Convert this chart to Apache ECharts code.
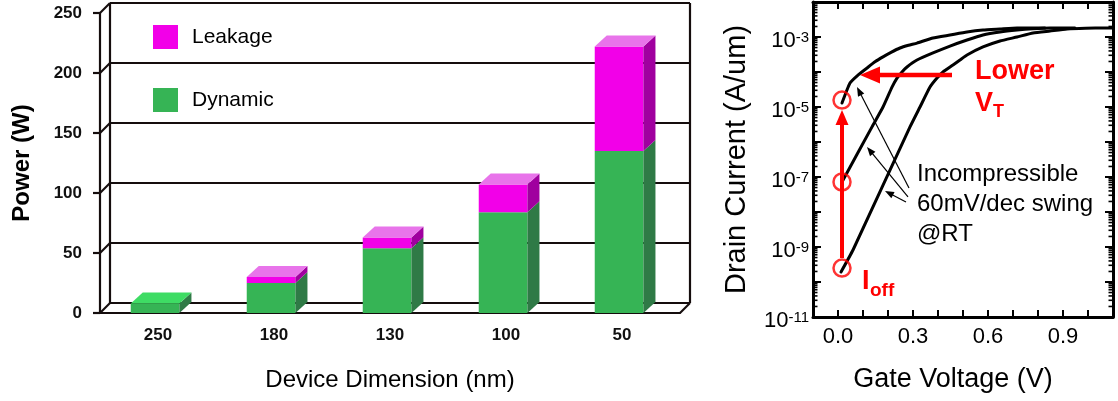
<!DOCTYPE html>
<html><head><meta charset="utf-8">
<script src="https://cdn.jsdelivr.net/npm/echarts@6/dist/echarts.min.js"></script>
<style>html,body{margin:0;padding:0;background:#fff}#c{width:1118px;height:401px}</style>
</head><body><div id="c"></div>
<script>
// ---------- Left chart data ----------
const categories = ['250', '180', '130', '100', '50'];
const dynamicPower = [8, 25, 54, 84, 135];
const leakagePower = [0, 5, 9, 23, 87];
const powerTicks = [0, 50, 100, 150, 200, 250];

// ---------- Right chart data (Gate Voltage V, Drain Current A/um) ----------
const curveLowVt = [[0.016,1.3e-5],[0.048,4.85e-5],[0.08,8.2e-5],[0.116,1.3e-4],[0.148,1.95e-4],[0.18,2.7e-4],[0.214,3.7e-4],[0.248,4.85e-4],[0.282,5.8e-4],[0.316,6.7e-4],[0.38,9.4e-4],[0.448,1.14e-3],[0.516,1.39e-3],[0.58,1.58e-3],[0.648,1.69e-3],[0.716,1.81e-3],[0.828,1.81e-3]];
const curveMidVt = [[0.016,7.2e-8],[0.136,2.7e-6],[0.18,1.0e-5],[0.216,3.7e-5],[0.236,6.7e-5],[0.256,1.0e-4],[0.276,1.39e-4],[0.316,2.2e-4],[0.38,3.5e-4],[0.448,5.5e-4],[0.516,8.2e-4],[0.58,1.14e-3],[0.648,1.39e-3],[0.716,1.58e-3],[0.78,1.72e-3],[0.848,1.81e-3],[0.948,1.81e-3]];
const curveHighVt = [[0.012,1.93e-10],[0.06,8.2e-10],[0.288,2.7e-6],[0.328,1.0e-5],[0.368,3.7e-5],[0.396,6.7e-5],[0.42,1.0e-4],[0.46,1.58e-4],[0.488,2.2e-4],[0.516,3.06e-4],[0.58,5.2e-4],[0.648,7.7e-4],[0.716,1.0e-3],[0.78,1.3e-3],[0.848,1.48e-3],[0.916,1.69e-3],[0.99,1.78e-3],[1.068,1.81e-3],[1.1,1.81e-3]];
const offMarkers = [[0.016,1.58e-5],[0.016,7.2e-8],[0.016,2.5e-10]];
const redArrowsV = [[0.016,4.85e-10,0.016,8.2e-6]];
const redArrowsH = [[0.456,8.2e-5,0.088,8.2e-5]];
const swingArrows = [[0.284,4.85e-8,0.076,3.7e-5],[0.28,2.7e-8,0.116,7.2e-7],[0.272,1.93e-8,0.188,4.0e-8]];
const voltTicksLabeled = [0, 0.3, 0.6, 0.9];
const voltRange = [-0.1, 1.1];
const currentRange = [1e-11, 1e-2];
const minorMantissas = [2, 3, 4, 5, 6, 7, 8, 9];

const FONT = '"Liberation Sans", Arial, Helvetica, sans-serif';
const RED = '#ff0000';

function box3d(front, side, top) {
  return function (params, api) {
    const i = api.value(0);
    const p0 = api.coord([i, api.value(1)]);
    const p1 = api.coord([i, api.value(2)]);
    const band = api.size([1, 0])[0];
    const w = band * 0.42;
    const xl = p0[0] - band * 0.235;
    const xr = xl + w;
    const dx = 12, dy = -11;
    const yb = p0[1], yt = p1[1];
    const ch = [
      {type: 'rect', shape: {x: xl, y: yt, width: w, height: yb - yt}, style: {fill: front}},
      {type: 'polygon', shape: {points: [[xr, yb], [xr + dx, yb + dy], [xr + dx, yt + dy], [xr, yt]]}, style: {fill: side}}
    ];
    if (api.value(3)) {
      ch.push({type: 'polygon', shape: {points: [[xl, yt], [xl + dx, yt + dy], [xr + dx, yt + dy], [xr, yt]]}, style: {fill: top}});
    }
    return {type: 'group', children: ch};
  };
}

function frameItem(params, api) {
  const v = api.value(1);
  const band = api.size([1, 0])[0];
  const pl = api.coord([0, v]);
  const pr = api.coord([categories.length - 1, v]);
  const x0 = pl[0] - band / 2, x1 = pr[0] + band / 2, y = pl[1];
  const d = 10;
  const st = {stroke: '#150d0d', lineWidth: 2.2};
  const ch = [
    {type: 'line', shape: {x1: x0, y1: y, x2: x0 + d, y2: y - d}, style: st},
    {type: 'line', shape: {x1: x0 + d, y1: y - d, x2: x1 + d, y2: y - d}, style: st}
  ];
  if (params.dataIndex === 0) {
    const yTop = api.coord([0, powerTicks[powerTicks.length - 1]])[1];
    ch.push({type: 'line', shape: {x1: x1, y1: y, x2: x1 + d, y2: y - d}, style: st});
    ch.push({type: 'line', shape: {x1: x0 + d, y1: y - d, x2: x0 + d, y2: yTop - d}, style: st});
    ch.push({type: 'line', shape: {x1: x1 + d, y1: y - d, x2: x1 + d, y2: yTop - d}, style: st});
  }
  return {type: 'group', children: ch};
}

function arrowItem(color, width, headLen, headW) {
  return function (params, api) {
    const p1 = api.coord([api.value(0), api.value(1)]);
    const p2 = api.coord([api.value(2), api.value(3)]);
    const dx = p2[0] - p1[0], dy = p2[1] - p1[1];
    const L = Math.hypot(dx, dy), ux = dx / L, uy = dy / L;
    const bx = p2[0] - ux * headLen, by = p2[1] - uy * headLen;
    const nx = -uy, ny = ux;
    return {type: 'group', children: [
      {type: 'line', shape: {x1: p1[0], y1: p1[1], x2: bx + ux * 2, y2: by + uy * 2}, style: {stroke: color, lineWidth: width}},
      {type: 'polygon', shape: {points: [[p2[0], p2[1]], [bx + nx * headW / 2, by + ny * headW / 2], [bx - nx * headW / 2, by - ny * headW / 2]]}, style: {fill: color}}
    ]};
  };
}

// log-axis minor ticks (2..9 in each decade), placed through the axis scale
function minorTickItem(params, api) {
  const v = api.value(1);
  const pl = api.coord([voltRange[0], v]);
  const pr = api.coord([voltRange[1], v]);
  const st = {stroke: '#000', lineWidth: 1.6};
  return {type: 'group', children: [
    {type: 'line', shape: {x1: pl[0], y1: pl[1], x2: pl[0] + 4.5, y2: pl[1]}, style: st},
    {type: 'line', shape: {x1: pr[0], y1: pr[1], x2: pr[0] - 4.5, y2: pr[1]}, style: st}
  ]};
}
const minorTickData = [];
for (let e = Math.round(Math.log10(currentRange[0])); e < Math.round(Math.log10(currentRange[1])); e++) {
  minorMantissas.forEach(m => minorTickData.push([voltRange[0], m * Math.pow(10, e)]));
}

const dynamicData = categories.map((c, i) => [i, 0, dynamicPower[i], leakagePower[i] > 0 ? 0 : 1]);
const leakageData = categories.map((c, i) => [i, dynamicPower[i], dynamicPower[i] + leakagePower[i], 1]).filter((d, i) => leakagePower[i] > 0);

const rightAxisLine = {show: true, onZero: false, lineStyle: {color: '#000', width: 3}};
const rightTick = {show: true, inside: true, length: 7, lineStyle: {color: '#000', width: 2}};
const curveStyle = {color: '#000', width: 3, join: 'round', cap: 'round'};

const chart = echarts.init(document.getElementById('c'), null, {renderer: 'canvas'});
chart.setOption({
  animation: false,
  backgroundColor: '#fff',
  textStyle: {fontFamily: FONT},
  grid: [
    {left: 100, top: 13, width: 580, height: 300, outerBoundsMode: 'none'},
    {left: 813, top: 2, width: 300, height: 315, outerBoundsMode: 'none'}
  ],
  legend: {
    data: [{name: 'Leakage', icon: 'rect'}, {name: 'Dynamic', icon: 'rect'}],
    orient: 'vertical', left: 148, top: 20, itemWidth: 25, itemHeight: 24, itemGap: 39,
    textStyle: {fontSize: 21, color: '#000', fontFamily: FONT, padding: [0, 0, 0, 9]},
    selectedMode: false
  },
  xAxis: [
    {type: 'category', gridIndex: 0, data: categories,
      axisLine: {lineStyle: {color: '#150d0d', width: 2.2}},
      axisTick: {length: 7, lineStyle: {color: '#150d0d', width: 2.2}},
      axisLabel: {fontSize: 17, fontWeight: 'bold', color: '#111', margin: 14, fontFamily: FONT},
      name: 'Device Dimension (nm)', nameLocation: 'middle', nameGap: 55, nameMoveOverlap: false,
      nameTextStyle: {fontSize: 24, color: '#000', fontFamily: FONT}},
    {type: 'value', gridIndex: 1, min: voltRange[0], max: voltRange[1], interval: 0.1,
      axisLine: rightAxisLine, axisTick: rightTick,
      axisLabel: {fontSize: 22, color: '#000', margin: 9, fontFamily: FONT,
        formatter: v => voltTicksLabeled.some(t => Math.abs(t - v) < 1e-6) ? v.toFixed(1) : ''},
      splitLine: {show: false},
      name: 'Gate Voltage (V)', nameLocation: 'middle', nameGap: 49, nameMoveOverlap: false,
      nameTextStyle: {fontSize: 27, color: '#000', fontFamily: FONT, padding: [0, 20, 0, 0]}},
    {type: 'value', gridIndex: 1, position: 'top', min: voltRange[0], max: voltRange[1], interval: 0.1,
      axisLine: rightAxisLine, axisTick: rightTick,
      axisLabel: {show: false}, splitLine: {show: false}}
  ],
  yAxis: [
    {type: 'value', gridIndex: 0, min: 0, max: 250, interval: 50,
      axisLine: {show: true, lineStyle: {color: '#150d0d', width: 2.2}},
      axisTick: {show: true, length: 7, lineStyle: {color: '#150d0d', width: 2.2}},
      axisLabel: {fontSize: 17, fontWeight: 'bold', color: '#111', margin: 18, fontFamily: FONT},
      splitLine: {show: false},
      name: 'Power (W)', nameLocation: 'middle', nameGap: 66, nameMoveOverlap: false,
      nameTextStyle: {fontSize: 24, fontWeight: 'bold', color: '#000', fontFamily: FONT}},
    {type: 'log', gridIndex: 1, logBase: 10, min: currentRange[0], max: currentRange[1], position: 'left',
      axisLine: rightAxisLine, axisTick: Object.assign({}, rightTick, {length: 8}),
      axisLabel: {margin: 4, color: '#000', fontFamily: FONT,
        formatter: function (v) {
          const e = Math.round(Math.log10(v));
          return (e % 2 !== 0 && e <= -3) ? '{n|10}{s|' + e + '}' : '';
        },
        rich: {
          n: {fontSize: 22, lineHeight: 22, padding: [8, 0, 0, 0], fontFamily: FONT, color: '#000'},
          s: {fontSize: 15, lineHeight: 15, verticalAlign: 'top', padding: [4, 0, 0, 0], fontFamily: FONT, color: '#000'}
        }},
      splitLine: {show: false},
      name: 'Drain Current (A/um)', nameLocation: 'middle', nameGap: 62, nameMoveOverlap: false,
      nameTextStyle: {fontSize: 29, color: '#000', fontFamily: FONT}},
    {type: 'log', gridIndex: 1, logBase: 10, min: currentRange[0], max: currentRange[1], position: 'right',
      axisLine: rightAxisLine, axisTick: Object.assign({}, rightTick, {length: 8}),
      axisLabel: {show: false}, splitLine: {show: false}}
  ],
  series: [
    {name: 'frame', type: 'custom', xAxisIndex: 0, yAxisIndex: 0, z: 1,
      data: powerTicks.map(v => [0, v]), encode: {x: 0, y: 1}, renderItem: frameItem, silent: true},
    {name: 'Dynamic', type: 'custom', xAxisIndex: 0, yAxisIndex: 0, z: 3,
      itemStyle: {color: '#36b455'},
      data: dynamicData, encode: {x: 0, y: [1, 2]}, renderItem: box3d('#36b455', '#2f7a46', '#3edc64')},
    {name: 'Leakage', type: 'custom', xAxisIndex: 0, yAxisIndex: 0, z: 4,
      itemStyle: {color: '#f200e8'},
      data: leakageData, encode: {x: 0, y: [1, 2]}, renderItem: box3d('#f200e8', '#a0009f', '#e874ea')},

    {name: 'minor ticks', type: 'custom', xAxisIndex: 2, yAxisIndex: 2, z: 2, silent: true,
      data: minorTickData, encode: {x: 0, y: 1}, renderItem: minorTickItem},
    {name: 'Low VT', type: 'line', xAxisIndex: 1, yAxisIndex: 1, data: curveLowVt, symbol: 'none', smooth: 0.15,
      lineStyle: curveStyle, z: 3},
    {name: 'Mid VT', type: 'line', xAxisIndex: 1, yAxisIndex: 1, data: curveMidVt, symbol: 'none', smooth: 0.15,
      lineStyle: curveStyle, z: 3},
    {name: 'High VT', type: 'line', xAxisIndex: 1, yAxisIndex: 1, data: curveHighVt, symbol: 'none', smooth: 0.15,
      lineStyle: curveStyle, z: 3},
    {name: 'swing arrows', type: 'custom', xAxisIndex: 2, yAxisIndex: 2, z: 4, silent: true,
      data: swingArrows, encode: {x: [0, 2], y: [1, 3]}, renderItem: arrowItem('#000', 1.2, 9, 7)},
    {name: 'Ioff arrow', type: 'custom', xAxisIndex: 1, yAxisIndex: 1, z: 5, silent: true,
      data: redArrowsV, encode: {x: [0, 2], y: [1, 3]}, renderItem: arrowItem(RED, 4, 15, 13)},
    {name: 'VT arrow', type: 'custom', xAxisIndex: 1, yAxisIndex: 1, z: 5, silent: true,
      data: redArrowsH, encode: {x: [0, 2], y: [1, 3]}, renderItem: arrowItem(RED, 4.5, 20, 17)},
    {name: 'Ioff', type: 'scatter', xAxisIndex: 1, yAxisIndex: 1, z: 6, data: offMarkers, symbol: 'circle', symbolSize: 17,
      itemStyle: {color: 'rgba(0,0,0,0)', borderColor: RED, borderWidth: 2.5}, silent: true}
  ],
  graphic: [
    {type: 'text', x: 975, y: 72, style: {text: 'Lower', font: 'bold 27px ' + FONT, fill: RED, verticalAlign: 'middle'}},
    {type: 'text', x: 975, y: 104, style: {text: 'V', font: 'bold 27px ' + FONT, fill: RED, verticalAlign: 'middle'}},
    {type: 'text', x: 993, y: 112, style: {text: 'T', font: 'bold 18px ' + FONT, fill: RED, verticalAlign: 'middle'}},
    {type: 'text', x: 862, y: 282, style: {text: 'I', font: 'bold 27px ' + FONT, fill: RED, verticalAlign: 'middle'}},
    {type: 'text', x: 870, y: 291, style: {text: 'off', font: 'bold 19px ' + FONT, fill: RED, verticalAlign: 'middle'}},
    {type: 'text', x: 917, y: 159, style: {text: 'Incompressible\n60mV/dec swing\n@RT', font: '24px ' + FONT, fill: '#000', lineHeight: 30, verticalAlign: 'top'}}
  ]
});
</script>
</body></html>
